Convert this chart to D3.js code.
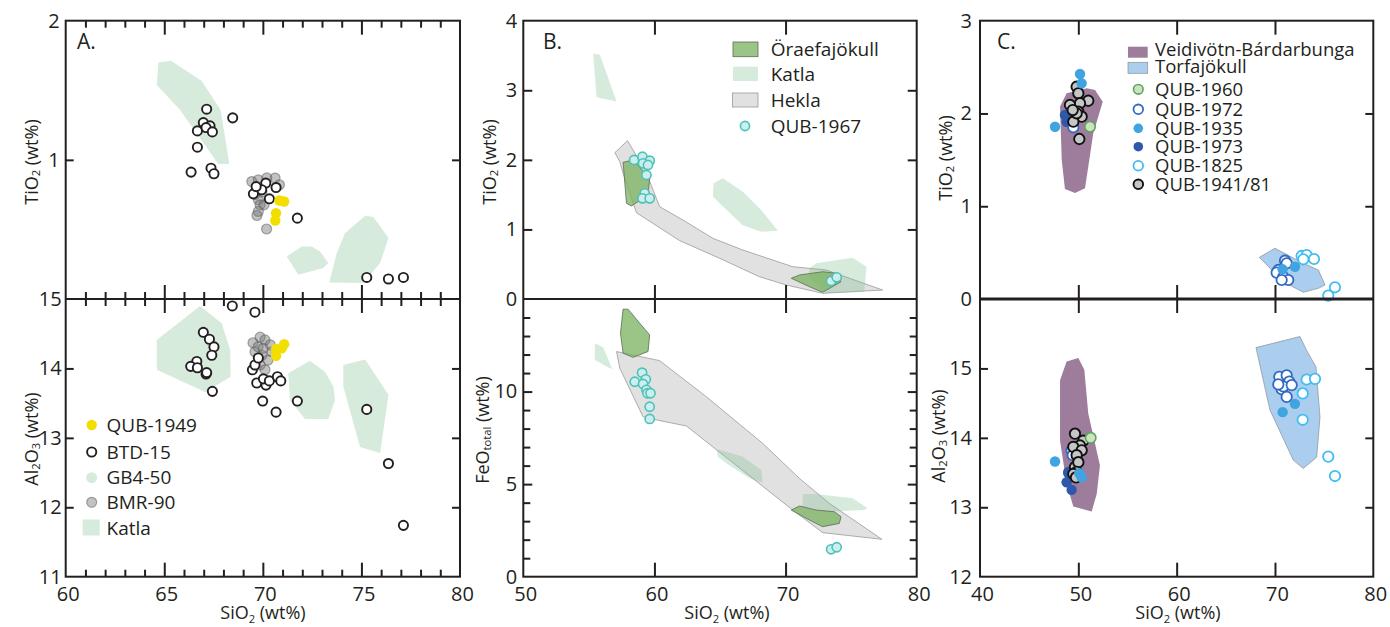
<!DOCTYPE html>
<html>
<head>
<meta charset="utf-8">
<script src="https://cdn.jsdelivr.net/npm/d3@7"></script>
<style>
  body { margin: 0; background: #fff; }
  svg text { font-family: "Open Sans", "Noto Sans", sans-serif; fill: #231f20; }
</style>
</head>
<body>
<svg id="fig" width="1390" height="627"></svg>
<script>
// ---------- Panel A: SiO2 vs TiO2 / Al2O3 ----------
const katlaA_TiO2 = [
  [[64.70,1.70],[65.34,1.713],[66.90,1.567],[67.86,1.359],[68.30,0.971],[67.74,0.971],[65.80,1.359],[64.62,1.538]],
  [[71.21,0.306],[71.97,0.378],[72.48,0.378],[72.90,0.342],[73.32,0.258],[73.07,0.223],[71.80,0.174]],
  [[74.17,0.474],[75.19,0.598],[75.61,0.589],[76.37,0.438],[75.95,0.258],[75.10,0.115],[73.37,0.119],[73.75,0.330]]
];
const katlaA_Al2O3 = [
  [[64.62,14.41],[66.81,14.90],[67.91,14.65],[68.34,14.27],[68.37,13.88],[67.07,13.66],[64.62,13.98]],
  [[71.29,13.93],[72.39,14.11],[73.16,13.95],[73.58,13.74],[73.66,13.54],[73.32,13.27],[72.14,13.27],[71.38,13.54]],
  [[74.08,14.05],[75.19,14.13],[76.37,13.62],[75.95,12.78],[74.93,12.87],[74.08,13.74]]
];
const bmr90_TiO2 = [[69.44,0.844],[69.77,0.856],[70.62,0.869],[70.84,0.821],[70.20,0.870],[69.96,0.770],[69.60,0.750],
  [69.77,0.713],[69.86,0.677],[70.06,0.677],[69.77,0.629],[69.70,0.600],[70.19,0.503]];
const bmr90_Al2O3 = [[69.50,14.37],[69.86,14.45],[70.11,14.41],[70.37,14.34],[69.60,14.24],[69.96,14.19],[70.26,14.12],
  [69.86,14.05],[70.11,13.98],[70.46,14.24],[69.76,14.31],[70.01,14.29]];
const btd15_TiO2 = [[67.15,1.364],[68.47,1.302],[66.98,1.268],[67.32,1.244],[66.68,1.208],[67.12,1.232],[67.44,1.201],
  [66.68,1.091],[66.36,0.912],[67.37,0.940],[67.52,0.900],[69.52,0.756],[70.15,0.833],[70.67,0.801],[70.33,0.720],
  [69.94,0.785],[69.66,0.808],[71.75,0.581],[75.27,0.155],[76.37,0.144],[77.13,0.155]];
const btd15_Al2O3 = [[68.45,14.90],[69.60,14.81],[66.98,14.52],[67.29,14.42],[67.52,14.31],[67.41,14.19],[66.65,14.10],
  [66.34,14.03],[66.68,14.01],[67.12,13.92],[67.15,13.94],[67.44,13.67],[69.47,13.98],[69.60,14.05],[69.77,14.15],
  [69.69,13.79],[70.16,13.76],[70.03,13.85],[70.33,13.82],[70.74,13.88],[70.91,13.82],[69.99,13.53],[70.67,13.37],
  [71.75,13.53],[75.27,13.41],[76.37,12.63],[77.13,11.74]];
const qub1949_TiO2 = [[70.84,0.708],[71.08,0.701],[70.67,0.617],[70.63,0.564]];
const qub1949_Al2O3 = [[71.08,14.35],[70.67,14.28],[70.67,14.18],[70.96,14.29]];
const legendA = ["QUB-1949", "BTD-15", "GB4-50", "BMR-90", "Katla"];

// ---------- Panel B: SiO2 vs TiO2 / FeO total ----------
const heklaB_TiO2 = [[56.98,2.103],[57.95,2.275],[58.37,2.141],[59.39,1.807],[60.40,1.327],[62.18,1.135],[64.46,0.872],
  [66.74,0.704],[70.55,0.464],[73.09,0.417],[77.40,0.129],[72.83,0.082],[70.05,0.201],[68.01,0.320],[64.97,0.585],
  [61.93,0.838],[58.63,1.240],[58.25,1.447],[57.61,1.807],[57.36,1.973]];
const katlaB_TiO2 = [
  [[55.33,3.53],[55.84,3.51],[57.11,2.84],[55.59,2.90]],
  [[64.51,1.663],[65.22,1.735],[66.74,1.542],[68.14,1.279],[69.41,0.982],[68.14,0.967],[66.70,1.064],[64.46,1.470]],
  [[71.82,0.441],[72.33,0.513],[75.11,0.594],[76.18,0.464],[76.00,0.105],[73.09,0.082],[71.77,0.320]]
];
const oraefaB_TiO2 = [
  [[57.61,1.965],[58.37,1.998],[59.64,1.735],[59.51,1.495],[58.25,1.337],[57.87,1.375]],
  [[70.43,0.298],[71.06,0.345],[72.83,0.392],[73.85,0.369],[74.23,0.249],[72.83,0.096],[71.82,0.177]]
];
const qub1967_TiO2 = [[58.45,1.998],[59.09,2.045],[59.64,1.988],[59.13,1.950],[59.51,1.926],[59.39,1.782],
  [59.26,1.519],[59.09,1.447],[59.64,1.447],[73.47,0.259],[73.90,0.312]];
const heklaB_FeO = [[57.11,12.16],[60.40,11.67],[63.96,9.72],[68.26,7.20],[71.06,5.31],[73.34,3.96],[77.35,2.02],
  [72.83,2.38],[70.55,3.60],[62.44,8.14],[60.15,8.47],[59.13,8.64],[57.36,11.26]];
const katlaB_FeO = [
  [[55.46,12.61],[56.09,12.39],[56.80,11.20],[56.35,11.35],[55.46,11.71]],
  [[64.72,6.88],[65.48,6.75],[66.74,6.48],[68.14,5.76],[68.26,5.08],[67.25,5.32],[65.48,6.13],[64.84,6.48]],
  [[71.31,4.47],[72.33,4.47],[75.11,4.24],[76.26,3.70],[76.00,3.60],[73.09,3.51],[71.31,3.78]]
];
const oraefaB_FeO = [
  [[57.61,14.45],[57.99,14.45],[58.88,13.69],[59.64,13.06],[59.51,12.16],[58.37,11.85],[57.61,12.07],[57.41,13.15]],
  [[70.43,3.60],[71.06,3.82],[72.33,3.60],[73.72,3.51],[74.23,3.24],[74.10,2.88],[72.83,2.70],[71.82,3.06]]
];
const qub1967_FeO = [[59.06,11.02],[59.34,10.66],[58.50,10.53],[59.13,10.41],[59.39,10.09],[59.47,9.91],
  [59.70,9.91],[59.64,9.18],[59.64,8.52],[73.47,1.48],[73.90,1.59]];
const legendB = ["Öraefajökull", "Katla", "Hekla", "QUB-1967"];

// ---------- Panel C: SiO2 vs TiO2 / Al2O3 ----------
const veidiC_TiO2 = [[48.81,2.217],[50.85,2.271],[51.70,2.253],[52.48,2.127],[51.52,1.786],[50.68,1.193],
  [49.66,1.143],[48.64,1.186],[48.31,1.502],[48.14,2.075]];
const torfaC_TiO2 = [[68.41,0.449],[70.00,0.547],[72.88,0.385],[74.41,0.313],[75.09,0.151],[74.41,0.115],[72.88,0.072],[70.85,0.186]];
const veidiC_Al2O3 = [[48.14,14.83],[48.81,15.10],[50.00,15.15],[50.61,14.98],[51.01,14.35],[52.20,13.60],
  [51.87,13.19],[51.36,12.94],[49.49,13.01],[48.81,13.34],[48.14,13.96]];
const torfaC_Al2O3 = [[68.07,15.30],[72.54,15.46],[73.22,15.26],[74.17,15.02],[74.58,14.30],[74.24,13.72],
  [72.88,13.56],[71.86,13.68],[69.49,14.40],[68.81,14.83]];
const qub1973_TiO2 = [[48.64,1.983],[48.81,1.911]];
const qub1973_Al2O3 = [[48.98,13.51],[48.98,13.49],[48.81,13.36],[49.32,13.25]];
const qub1972_TiO2 = [[49.49,1.851],[71.02,0.413],[70.34,0.313],[70.17,0.284],[70.85,0.240],[71.35,0.205],[70.68,0.205],[71.19,0.385]];
const qub1972_Al2O3 = [[49.32,13.82],[49.43,13.75],[70.44,14.88],[71.19,14.90],[71.45,14.81],[70.68,14.70],
  [70.85,14.74],[71.19,14.59],[70.34,14.77],[71.70,14.76]];
const qub194181_TiO2 = [[49.83,2.288],[50.00,2.217],[51.01,2.137],[50.17,2.110],[49.15,2.091],[50.00,2.019],
  [50.34,1.965],[49.49,1.911],[49.83,2.002],[49.43,2.037],[50.10,1.725]];
const qub194181_Al2O3 = [[49.66,14.06],[50.51,13.96],[50.17,13.89],[49.49,13.87],[50.34,13.82],[49.83,13.75],
  [49.66,13.58],[50.00,13.65],[49.83,13.51],[49.49,13.48],[49.76,13.43]];
const qub1935_TiO2 = [[50.17,2.425],[50.34,2.325],[47.63,1.857],[70.78,0.320],[72.03,0.348]];
const qub1935_Al2O3 = [[47.63,13.66],[50.10,13.49],[50.34,13.43],[70.78,14.37],[72.03,14.49]];
const qub1960_TiO2 = [[51.19,1.857]];
const qub1960_Al2O3 = [[51.26,14.00]];
const qub1825_TiO2 = [[72.71,0.464],[73.22,0.474],[73.97,0.431],[72.88,0.428],[76.10,0.126],[75.42,0.036]];
const qub1825_Al2O3 = [[73.22,14.84],[74.07,14.85],[72.82,14.64],[72.82,14.26],[75.42,13.73],[76.10,13.45]];
const legendC = ["Veidivötn-Bárdarbunga", "Torfajökull", "QUB-1960", "QUB-1972", "QUB-1935", "QUB-1973", "QUB-1825", "QUB-1941/81"];

// ---------- drawing ----------
const svg = d3.select("#fig");
const INK = "#231f20";
const yTopPx = 20.7, yMidPx = 299, yBotPx = 576.7;
const TICK_FONT = 20;

const katlaFill = "rgba(120,190,140,0.3)";
const heklaFill = "rgba(205,205,205,0.6)";
const oraefaFill = "rgba(120,178,95,0.75)";
const veidiFill = "#9e7c9c";
const torfaFill = "#abcdee";

function makePanel(cfg) {
  const x = d3.scaleLinear().domain(cfg.xDom).range([cfg.x0, cfg.x1]);
  const yT = d3.scaleLinear().domain(cfg.yTopDom).range([yMidPx, yTopPx]);
  const yB = d3.scaleLinear().domain(cfg.yBotDom).range([yBotPx, yMidPx]);
  return { x, yT, yB, cfg };
}

function tickAxis(axisFn, scale, values, len, tx, ty) {
  const g = svg.append("g").attr("transform", `translate(${tx},${ty})`)
    .call(axisFn(scale).tickValues(values).tickSize(-len).tickFormat(""));
  g.select(".domain").remove();
  g.selectAll(".tick line").attr("stroke", INK).attr("stroke-width", 2);
}

function labelAxis(axisFn, scale, values, pad, tx, ty) {
  const g = svg.append("g").attr("transform", `translate(${tx},${ty})`)
    .call(axisFn(scale).tickValues(values).tickSize(0).tickPadding(pad).tickFormat(d3.format("d")));
  g.select(".domain").remove();
  g.selectAll(".tick text").attr("font-size", TICK_FONT).attr("fill", INK)
    .style("font-family", '"Open Sans", sans-serif');
}

function frame(P, midWidth) {
  const { x0, x1 } = P.cfg;
  svg.append("rect").attr("x", x0).attr("y", yTopPx).attr("width", x1 - x0).attr("height", yBotPx - yTopPx)
    .attr("fill", "none").attr("stroke", INK).attr("stroke-width", 2);
  svg.append("line").attr("x1", x0).attr("x2", x1).attr("y1", yMidPx).attr("y2", yMidPx)
    .attr("stroke", INK).attr("stroke-width", midWidth);
}

function xTickSet(P, major, minor, majLen, minLen) {
  [[d3.axisTop, yTopPx], [d3.axisBottom, yMidPx], [d3.axisTop, yMidPx], [d3.axisBottom, yBotPx]].forEach(([fn, yy]) => {
    if (minor.length) tickAxis(fn, P.x, minor, minLen, 0, yy);
    tickAxis(fn, P.x, major, majLen, 0, yy);
  });
}

function yTickSet(P, scale, values, len) {
  tickAxis(d3.axisLeft, scale, values, len, P.cfg.x0, 0);
  tickAxis(d3.axisRight, scale, values, len, P.cfg.x1, 0);
}

function polys(P, scale, list, fill, stroke, sw) {
  svg.append("g").selectAll("path").data(list).join("path")
    .attr("d", d => d3.line().x(p => P.x(p[0])).y(p => scale(p[1]))(d) + "Z")
    .attr("fill", fill).attr("stroke", stroke || "none").attr("stroke-width", sw || 0);
}

function dots(P, scale, data, r, fill, stroke, sw) {
  svg.append("g").selectAll("circle").data(data).join("circle")
    .attr("cx", d => P.x(d[0])).attr("cy", d => scale(d[1])).attr("r", r)
    .attr("fill", fill).attr("stroke", stroke || "none").attr("stroke-width", sw || 0);
}

// chemical-formula label with subscripts
function chemText(sel, parts, size) {
  let shift = 0;
  parts.forEach(p => {
    const isSub = p.sub !== undefined;
    const target = isSub ? size * 0.2 : 0;
    sel.append("tspan")
      .attr("font-size", isSub ? size * 0.62 : size)
      .attr("dy", target - shift)
      .text(isSub ? p.sub : p.t);
    shift = target;
  });
}

function yTitle(cx, cy, parts) {
  const t = svg.append("text").attr("transform", `translate(${cx},${cy}) rotate(-90)`)
    .attr("text-anchor", "middle").attr("dominant-baseline", "central");
  chemText(t, parts, 18);
}
function xTitle(cx, cy) {
  const t = svg.append("text").attr("x", cx).attr("y", cy).attr("text-anchor", "middle");
  chemText(t, [{ t: "SiO" }, { sub: "2" }, { t: " (wt%)" }], 18);
}
const TIO2 = [{ t: "TiO" }, { sub: "2" }, { t: " (wt%)" }];
const AL2O3 = [{ t: "Al" }, { sub: "2" }, { t: "O" }, { sub: "3" }, { t: " (wt%)" }];
const FEOT = [{ t: "FeO" }, { sub: "total" }, { t: " (wt%)" }];

// ===== Panel A =====
const A = makePanel({ x0: 65.7, x1: 460, xDom: [60, 80], yTopDom: [0, 2], yBotDom: [11, 15] });
polys(A, A.yT, katlaA_TiO2, katlaFill);
polys(A, A.yB, katlaA_Al2O3, katlaFill);
dots(A, A.yT, bmr90_TiO2, 5, "rgba(120,120,120,0.45)", "rgba(90,90,90,0.5)", 1.2);
dots(A, A.yB, bmr90_Al2O3, 5, "rgba(120,120,120,0.45)", "rgba(90,90,90,0.5)", 1.2);
dots(A, A.yT, btd15_TiO2, 4.6, "#fff", INK, 1.9);
dots(A, A.yB, btd15_Al2O3, 4.6, "#fff", INK, 1.9);
dots(A, A.yT, qub1949_TiO2, 5.2, "#f2df00");
dots(A, A.yB, qub1949_Al2O3, 5.2, "#f2df00");
frame(A, 2);
xTickSet(A, [65, 70, 75], d3.range(61, 80).filter(v => v % 5), 14, 7);
yTickSet(A, A.yT, [1], 8);
yTickSet(A, A.yB, [12, 13, 14], 8);
labelAxis(d3.axisBottom, A.x, [60, 65, 70, 75, 80], 10, 2, yBotPx);
labelAxis(d3.axisLeft, A.yT, [1, 2], 6, A.cfg.x0, 0);
labelAxis(d3.axisLeft, A.yB, [11, 12, 13, 14, 15], 4, A.cfg.x0, 0);
svg.append("text").attr("x", 77).attr("y", 49).attr("font-size", 21).text("A.");
yTitle(31, 162, TIO2);
yTitle(31, 439, AL2O3);
xTitle(263, 619);

// legend A
const legA = svg.append("g");
const legAy = [425, 452, 477.7, 502.3, 528.3];
legA.append("circle").attr("cx", 91.7).attr("cy", legAy[0]).attr("r", 5.2).attr("fill", "#f2df00");
legA.append("circle").attr("cx", 91.7).attr("cy", legAy[1]).attr("r", 4.6).attr("fill", "#fff").attr("stroke", INK).attr("stroke-width", 1.9);
legA.append("circle").attr("cx", 91.7).attr("cy", legAy[2]).attr("r", 5.5).attr("fill", katlaFill);
legA.append("circle").attr("cx", 91.7).attr("cy", legAy[3]).attr("r", 5).attr("fill", "rgba(120,120,120,0.45)").attr("stroke", "rgba(90,90,90,0.5)").attr("stroke-width", 1.2);
legA.append("rect").attr("x", 82.7).attr("y", 519.5).attr("width", 17).attr("height", 16).attr("fill", katlaFill);
legA.selectAll("text").data(legendA).join("text")
  .attr("x", 106.5).attr("y", (d, i) => legAy[i]).attr("dy", "0.35em").attr("font-size", 19).text(d => d);

// ===== Panel B =====
const B = makePanel({ x0: 523.3, x1: 916.7, xDom: [50, 80], yTopDom: [0, 4], yBotDom: [0, 15] });
polys(B, B.yT, [heklaB_TiO2], heklaFill, "#9a9a9a", 0.8);
polys(B, B.yB, [heklaB_FeO], heklaFill, "#9a9a9a", 0.8);
polys(B, B.yT, katlaB_TiO2, katlaFill);
polys(B, B.yB, katlaB_FeO, katlaFill);
polys(B, B.yT, oraefaB_TiO2, oraefaFill, "#5d6b55", 0.8);
polys(B, B.yB, oraefaB_FeO, oraefaFill, "#5d6b55", 0.8);
dots(B, B.yT, qub1967_TiO2, 4.6, "#cdeef0", "#4dc2b6", 1.6);
dots(B, B.yB, qub1967_FeO, 4.6, "#cdeef0", "#4dc2b6", 1.6);
frame(B, 2);
xTickSet(B, [60, 70], [], 14, 0);
yTickSet(B, B.yT, [1, 2, 3], 9);
yTickSet(B, B.yB, d3.range(1, 15).filter(v => v % 5), 7);
yTickSet(B, B.yB, [5, 10], 9);
labelAxis(d3.axisBottom, B.x, [50, 60, 70, 80], 10, 2, yBotPx);
labelAxis(d3.axisLeft, B.yT, [0, 1, 2, 3, 4], 6, B.cfg.x0, 0);
labelAxis(d3.axisLeft, B.yB, [0, 5, 10], 6, B.cfg.x0, 0);
svg.append("text").attr("x", 543).attr("y", 49).attr("font-size", 21).text("B.");
yTitle(489, 162, TIO2);
yTitle(482, 430, FEOT);
xTitle(727, 619);

// legend B
const legB = svg.append("g");
const legBy = [49.3, 74, 100, 126];
legB.append("rect").attr("x", 733).attr("y", 42).attr("width", 25).attr("height", 14.7).attr("fill", oraefaFill).attr("stroke", "#5d6b55").attr("stroke-width", 0.8);
legB.append("rect").attr("x", 733).attr("y", 66.7).attr("width", 25).attr("height", 14.3).attr("fill", katlaFill);
legB.append("rect").attr("x", 732.5).attr("y", 93).attr("width", 25.5).attr("height", 14).attr("fill", heklaFill).attr("stroke", "#9a9a9a").attr("stroke-width", 0.8);
legB.append("circle").attr("cx", 745).attr("cy", legBy[3]).attr("r", 4.6).attr("fill", "#cdeef0").attr("stroke", "#4dc2b6").attr("stroke-width", 1.6);
legB.selectAll("text").data(legendB).join("text")
  .attr("x", 770.7).attr("y", (d, i) => legBy[i]).attr("dy", "0.35em").attr("font-size", 19).text(d => d);

// ===== Panel C =====
const C = makePanel({ x0: 980, x1: 1373.3, xDom: [40, 80], yTopDom: [0, 3], yBotDom: [12, 16] });
polys(C, C.yT, [veidiC_TiO2], veidiFill);
polys(C, C.yT, [torfaC_TiO2], torfaFill, "#8a8f96", 0.7);
polys(C, C.yB, [veidiC_Al2O3], veidiFill);
polys(C, C.yB, [torfaC_Al2O3], torfaFill, "#8a8f96", 0.7);
const cR = 5.2;
const styleC = {
  q1973: ["#2f58ab", "none", 0],
  q1972: ["#fff", "#3169c4", 1.8],
  q194181: ["#c6c6c6", "#111", 1.9],
  q1935: ["#3fa4e0", "none", 0],
  q1960: ["#c9e4bf", "#5da45a", 1.6],
  q1825: ["#fff", "#42bdf2", 1.8]
};
[[qub1973_TiO2, qub1973_Al2O3, "q1973"], [qub1972_TiO2, qub1972_Al2O3, "q1972"],
 [qub194181_TiO2, qub194181_Al2O3, "q194181"], [qub1935_TiO2, qub1935_Al2O3, "q1935"],
 [qub1960_TiO2, qub1960_Al2O3, "q1960"], [qub1825_TiO2, qub1825_Al2O3, "q1825"]].forEach(([t, a, k]) => {
  const s = styleC[k];
  dots(C, C.yT, t, cR, s[0], s[1], s[2]);
  dots(C, C.yB, a, cR, s[0], s[1], s[2]);
});
frame(C, 3);
xTickSet(C, [50, 60, 70], [], 14, 0);
yTickSet(C, C.yT, [1, 2], 8);
yTickSet(C, C.yB, [13, 14, 15], 8);
labelAxis(d3.axisBottom, C.x, [40, 50, 60, 70, 80], 10, 2, yBotPx);
labelAxis(d3.axisLeft, C.yT, [0, 1, 2, 3], 8, C.cfg.x0, 0);
labelAxis(d3.axisLeft, C.yB, [12, 13, 14, 15], 8, C.cfg.x0, 0);
svg.append("text").attr("x", 997).attr("y", 49).attr("font-size", 21).text("C.");
yTitle(945, 158, TIO2);
yTitle(938, 436, AL2O3);
xTitle(1178, 619);

// legend C
const legC = svg.append("g");
legC.append("rect").attr("x", 1128).attr("y", 46.7).attr("width", 19.7).attr("height", 11).attr("fill", veidiFill);
legC.append("rect").attr("x", 1128).attr("y", 62.3).attr("width", 19.7).attr("height", 11).attr("fill", torfaFill).attr("stroke", "#8a8f96").attr("stroke-width", 0.7);
const legCy = [49.5, 66.5, 89.3, 109.3, 128.3, 146.7, 165.7, 184.3];
["q1960", "q1972", "q1935", "q1973", "q1825", "q194181"].forEach((k, i) => {
  const s = styleC[k];
  legC.append("circle").attr("cx", 1138.3).attr("cy", legCy[i + 2]).attr("r", 4.8)
    .attr("fill", s[0]).attr("stroke", s[1]).attr("stroke-width", s[2]);
});
legC.selectAll("text").data(legendC).join("text")
  .attr("x", 1155).attr("y", (d, i) => legCy[i]).attr("dy", "0.35em").attr("font-size", 18.5).text(d => d);
</script>
</body>
</html>
